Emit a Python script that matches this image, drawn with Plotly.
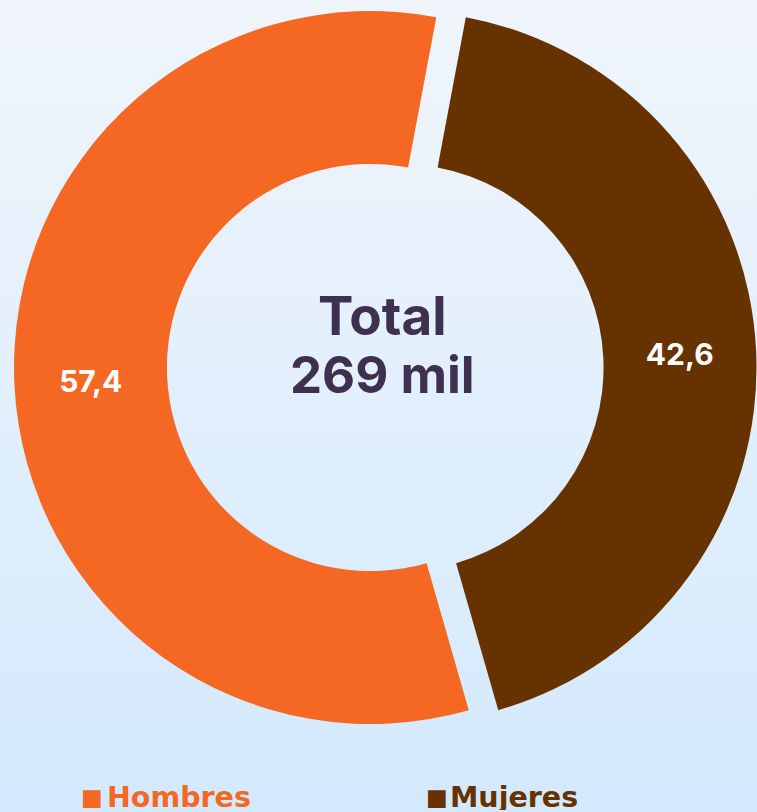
import base64
import plotly.graph_objects as go

# ---- data ----
categories = ["Hombres", "Mujeres"]
values = [57.4, 42.6]
total_title = "Total"
total_value = "269 mil"
colors = ["#F46823", "#663300"]
text_dark = "#3E3051"

W, H = 757, 812


def fmt(v):
    return f"{v:.1f}".replace(".", ",")


# each slice is drawn from its own (shifted) circle to emulate the exploded look
R = 356.5
centers = [(370.5, 367.5), (400.0, 367.5)]
hole = 0.571
rotation = 164

fig = go.Figure()
for k, (cx, cy) in enumerate(centers):
    fig.add_trace(go.Pie(
        labels=categories,
        values=values,
        sort=False,
        direction="clockwise",
        rotation=rotation,
        hole=hole,
        marker=dict(colors=[colors[i] if i == k else "rgba(0,0,0,0)" for i in range(len(values))],
                    line=dict(width=0)),
        text=[fmt(v) if i == k else "" for i, v in enumerate(values)],
        textinfo="text",
        textposition="inside",
        insidetextorientation="horizontal",
        textfont=dict(family="Inter", size=30, color="white", weight=700),
        hoverinfo="skip",
        showlegend=False,
        domain=dict(x=[(cx - R) / W, (cx + R) / W],
                    y=[(H - (cy + R)) / H, (H - (cy - R)) / H]),
    ))

svg = ('<svg xmlns="http://www.w3.org/2000/svg" width="757" height="812">'
       '<defs><linearGradient id="g" x1="0" y1="0" x2="0" y2="1">'
       '<stop offset="0" stop-color="#F0F5FB"/><stop offset="1" stop-color="#D3E9FD"/>'
       '</linearGradient></defs><rect width="757" height="812" fill="url(#g)"/></svg>')
src = "data:image/svg+xml;base64," + base64.b64encode(svg.encode()).decode()

annotations = [
    dict(text=f"<b>{total_title}</b>", x=382 / W, y=(H - 316) / H, xref="paper", yref="paper",
         xanchor="center", yanchor="middle", showarrow=False,
         font=dict(family="Inter", size=53, color=text_dark)),
    dict(text=f"<b>{total_value}</b>", x=382 / W, y=(H - 375) / H, xref="paper", yref="paper",
         xanchor="center", yanchor="middle", showarrow=False,
         font=dict(family="Inter", size=51, color=text_dark)),
]
legend_square_x = [80, 425]
legend_text_x = [106, 449]
for i, name in enumerate(categories):
    annotations.append(dict(
        text="■", x=legend_square_x[i] / W, y=(H - 797) / H, xref="paper", yref="paper",
        xanchor="left", yanchor="middle", showarrow=False, height=26, borderpad=0,
        font=dict(family="DejaVu Sans", size=23, color=colors[i])))
    annotations.append(dict(
        text=f"<b>{name}</b>", x=legend_text_x[i] / W, y=(H - 797) / H, xref="paper", yref="paper",
        xanchor="left", yanchor="middle", showarrow=False, height=26, borderpad=0,
        font=dict(family="DejaVu Sans", size=28.5, color=colors[i])))

fig.update_layout(
    width=W, height=H,
    margin=dict(l=0, r=0, t=0, b=0),
    paper_bgcolor="#E2EFFC",
    plot_bgcolor="rgba(0,0,0,0)",
    images=[dict(source=src, xref="paper", yref="paper", x=0, y=1, sizex=1, sizey=1,
                 xanchor="left", yanchor="top", sizing="stretch", layer="below")],
    annotations=annotations,
)

fig.write_html("out.html", config={"displayModeBar": False},
               post_script="document.body.style.margin='0px';document.body.style.overflow='hidden';")
